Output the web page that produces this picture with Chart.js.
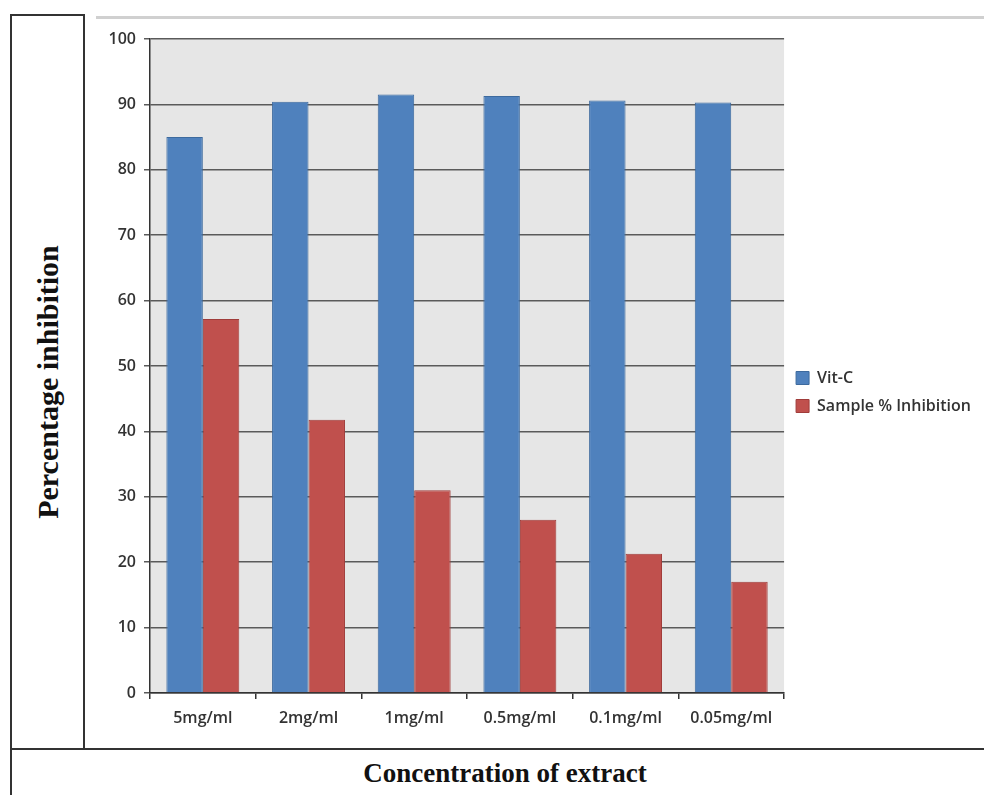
<!DOCTYPE html>
<html>
<head>
<meta charset="utf-8">
<script src="https://cdn.jsdelivr.net/npm/chart.js@4.4.1/dist/chart.umd.min.js"></script>
<style>
body{margin:0;background:#fff;width:984px;height:795px;position:relative;overflow:hidden}
.ln{position:absolute;background:#333}
#chartBox{position:absolute;left:90px;top:20px;width:894px;height:725px}
#ylab{position:absolute;left:48px;top:382px;transform:translate(-50%,-50%) rotate(-90deg);white-space:nowrap;
 font-family:"Liberation Serif","Times New Roman",serif;font-weight:bold;font-size:30px;color:#111}
#xlab{position:absolute;left:505px;top:773px;transform:translate(-50%,-50%);white-space:nowrap;
 font-family:"Liberation Serif","Times New Roman",serif;font-weight:bold;font-size:27px;color:#111}
</style>
</head>
<body>
<!-- table lines -->
<div class="ln" style="left:10px;top:14px;width:74px;height:1.5px"></div>
<div class="ln" style="left:10px;top:14px;width:1.5px;height:781px"></div>
<div class="ln" style="left:83px;top:14px;width:1.5px;height:735px"></div>
<div class="ln" style="left:10px;top:748px;width:974px;height:1.5px"></div>
<div class="ln" style="left:96px;top:16px;width:888px;height:3px;background:#d0d0d0"></div>

<div id="ylab">Percentage inhibition</div>
<div id="xlab">Concentration of extract</div>

<div id="chartBox"><canvas id="c"></canvas></div>

<script>
// data
const labels = ["5mg/ml","2mg/ml","1mg/ml","0.5mg/ml","0.1mg/ml","0.05mg/ml"]
const vitC = [85.0, 90.4, 91.5, 91.3, 90.6, 90.3]
const sample = [57.2, 41.8, 31.0, 26.5, 21.3, 17.0]
const yTicks = [0,10,20,30,40,50,60,70,80,90,100]

// grey plot background
const plotBg = {
  id:"plotBg",
  beforeDraw(chart){
    let a = chart.chartArea
    let ctx = chart.ctx
    ctx.save()
    ctx.fillStyle = "#e6e6e6"
    ctx.fillRect(a.left, a.top, a.right-a.left, a.bottom-a.top)
    ctx.restore()
  }
}

let tickFont = {family:"'Open Sans', sans-serif", size:16, weight:"600"}

let chart = new Chart(document.getElementById("c"),{
  type:"bar",
  data:{
    labels:labels,
    datasets:[
      {label:"Vit-C", data:vitC, backgroundColor:"#4f81bd", borderColor:"#3d6a9e", borderWidth:1},
      {label:"Sample % Inhibition", data:sample, backgroundColor:"#c0504d", borderColor:"#a03c3a", borderWidth:1}
    ]
  },
  options:{
    responsive:true,
    maintainAspectRatio:false,
    animation:false,
    datasets:{bar:{categoryPercentage:0.69, barPercentage:1}},
    layout:{padding:{top:19, right:3, bottom:0, left:0}},
    plugins:{
      tooltip:{enabled:false},
      legend:{
        position:"right",
        align:"center",
        labels:{boxWidth:13, boxHeight:13, padding:12, color:"#333",
          font:{family:"'Open Sans', sans-serif", size:16, weight:"600"}}
      }
    },
    scales:{
      x:{
        grid:{display:true, drawOnChartArea:false, drawTicks:true, tickLength:6, color:"#333", lineWidth:1.5, offset:true},
        border:{display:true, color:"#333", width:1.5},
        ticks:{color:"#333", font:tickFont, padding:10, maxRotation:0},
        afterFit(s){ s.height = 52 }
      },
      y:{
        min:0, max:100,
        afterBuildTicks(s){ s.ticks = yTicks.map(v => ({value:v})) },
        grid:{color:"#5a5a5a", lineWidth:1.5, tickLength:6},
        border:{display:true, color:"#333", width:1.5},
        ticks:{color:"#333", font:tickFont, padding:8},
        afterFit(s){ s.width = 60 }
      }
    }
  },
  plugins:[plotBg]
})
</script>
</body>
</html>
